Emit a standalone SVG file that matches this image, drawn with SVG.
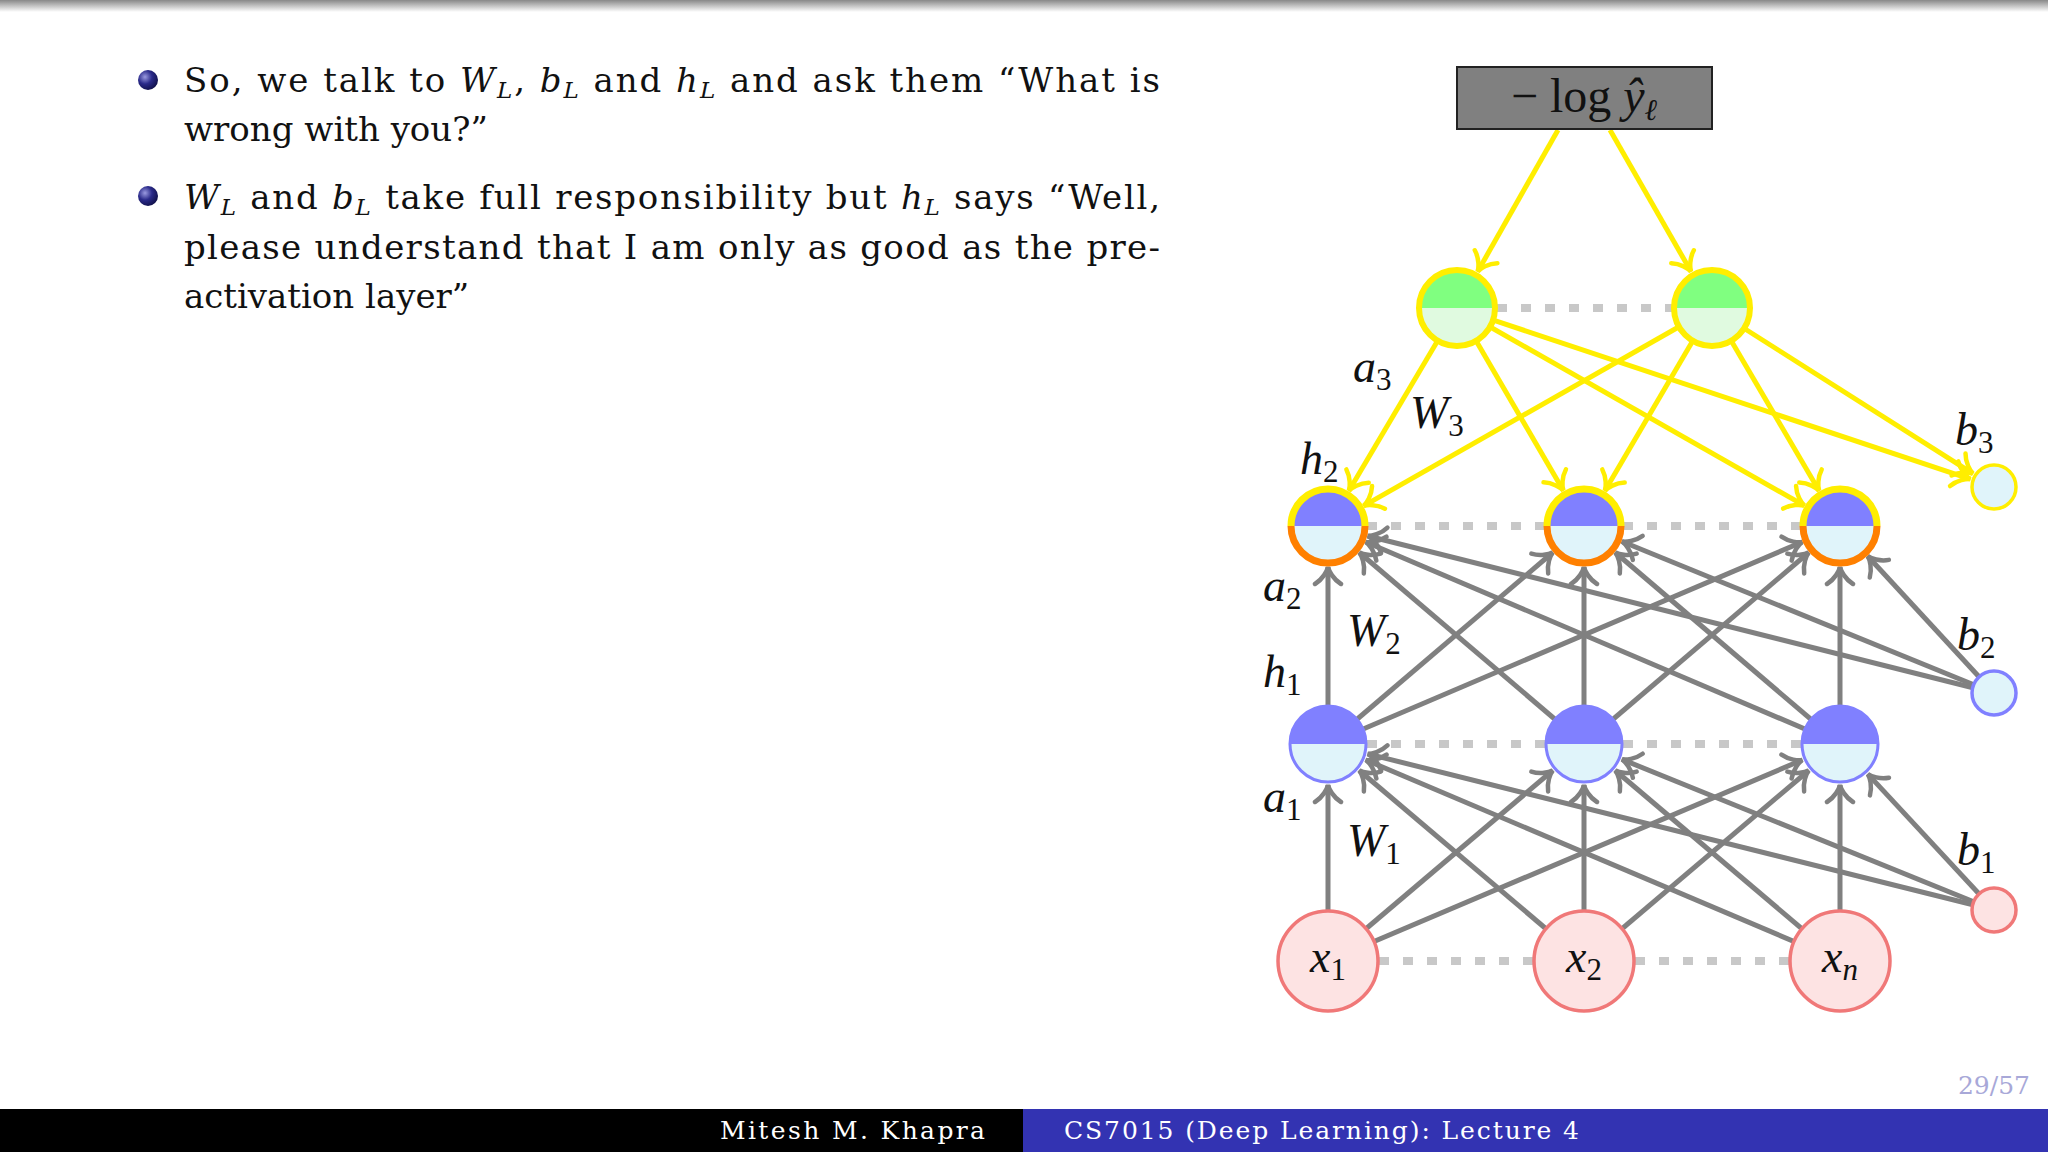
<svg xmlns="http://www.w3.org/2000/svg" width="2048" height="1152" viewBox="0 0 2048 1152">
<defs>
<linearGradient id="top" x1="0" y1="0" x2="0" y2="1"><stop offset="0" stop-color="#888"/><stop offset="1" stop-color="#fff"/></linearGradient>
<radialGradient id="ball" cx="0.35" cy="0.35" r="0.7"><stop offset="0" stop-color="#9a9ae0"/><stop offset="0.5" stop-color="#2a2a8a"/><stop offset="1" stop-color="#10104a"/></radialGradient>
<marker id="ag" viewBox="-20 -16 24 32" refX="0" refY="0" markerWidth="24" markerHeight="32" markerUnits="userSpaceOnUse" orient="auto"><path d="M-17,-13 C-12,-5 -4,-1 0,0 C-4,1 -12,5 -17,13" fill="none" stroke="#808080" stroke-width="4.5" stroke-linecap="round"/></marker>
<marker id="ay" viewBox="-20 -16 24 32" refX="0" refY="0" markerWidth="24" markerHeight="32" markerUnits="userSpaceOnUse" orient="auto"><path d="M-17,-13 C-12,-5 -4,-1 0,0 C-4,1 -12,5 -17,13" fill="none" stroke="#ffee00" stroke-width="4.5" stroke-linecap="round"/></marker>
</defs>
<style>
.t{font-family:"DejaVu Serif",serif;font-size:34px;fill:#111}
.m{font-family:"Liberation Serif",serif;font-style:italic;font-size:46px;fill:#111}
.s{font-size:31px;font-style:normal}
.g line{stroke:#808080;stroke-width:5;marker-end:url(#ag)}
.y line{stroke:#ffee00;stroke-width:5;marker-end:url(#ay)}
.dot{stroke:#c8c8c8;stroke-width:8;stroke-dasharray:10 14}
.lo{fill:#e0f4fa}
.f{font-family:"DejaVu Serif",serif;font-size:25px;fill:#fff}
</style>
<rect width="2048" height="1152" fill="#fff"/>
<rect width="2048" height="12" fill="url(#top)"/>

<circle cx="148" cy="80" r="10" fill="url(#ball)"/>
<circle cx="148" cy="196" r="10" fill="url(#ball)"/>
<text class="t" x="184" y="92" textLength="976" lengthAdjust="spacing">So, we talk to <tspan font-style="italic">W</tspan><tspan font-style="italic" font-size="23" dy="6">L</tspan><tspan dy="-6">, </tspan><tspan font-style="italic">b</tspan><tspan font-style="italic" font-size="23" dy="6">L</tspan><tspan dy="-6"> and </tspan><tspan font-style="italic">h</tspan><tspan font-style="italic" font-size="23" dy="6">L</tspan><tspan dy="-6"> and ask them “What is</tspan></text>
<text class="t" x="184" y="141">wrong with you?”</text>
<text class="t" x="184" y="209" textLength="976" lengthAdjust="spacing"><tspan font-style="italic">W</tspan><tspan font-style="italic" font-size="23" dy="6">L</tspan><tspan dy="-6"> and </tspan><tspan font-style="italic">b</tspan><tspan font-style="italic" font-size="23" dy="6">L</tspan><tspan dy="-6"> take full responsibility but </tspan><tspan font-style="italic">h</tspan><tspan font-style="italic" font-size="23" dy="6">L</tspan><tspan dy="-6"> says “Well,</tspan></text>
<text class="t" x="184" y="259" textLength="976" lengthAdjust="spacing">please understand that I am only as good as the pre-</text>
<text class="t" x="184" y="308">activation layer”</text>

<g id="dots">
<line class="dot" x1="1497" y1="308" x2="1672" y2="308"/>
<line class="dot" x1="1367" y1="526" x2="1545" y2="526"/><line class="dot" x1="1623" y1="526" x2="1801" y2="526"/>
<line class="dot" x1="1367" y1="744" x2="1545" y2="744"/><line class="dot" x1="1623" y1="744" x2="1801" y2="744"/>
<line class="dot" x1="1379" y1="961" x2="1533" y2="961"/><line class="dot" x1="1635" y1="961" x2="1789" y2="961"/>
</g>

<g id="connectors">
<g class="g">
<line x1="1328" y1="961" x2="1328" y2="785"/><line x1="1328" y1="961" x2="1552.7" y2="770.5"/><line x1="1328" y1="961" x2="1802.2" y2="760"/>
<line x1="1584" y1="961" x2="1359.3" y2="770.5"/><line x1="1584" y1="961" x2="1584" y2="785"/><line x1="1584" y1="961" x2="1808.7" y2="770.5"/>
<line x1="1840" y1="961" x2="1365.8" y2="760"/><line x1="1840" y1="961" x2="1615.3" y2="770.5"/><line x1="1840" y1="961" x2="1840" y2="785"/>
<line x1="1994" y1="910" x2="1867.9" y2="774.1"/><line x1="1994" y1="910" x2="1622" y2="759.4"/><line x1="1994" y1="910" x2="1367.8" y2="753.9"/>
<line x1="1328" y1="744" x2="1328" y2="567"/><line x1="1328" y1="744" x2="1552.7" y2="552.5"/><line x1="1328" y1="744" x2="1802.2" y2="542"/>
<line x1="1584" y1="744" x2="1359.3" y2="552.5"/><line x1="1584" y1="744" x2="1584" y2="567"/><line x1="1584" y1="744" x2="1808.7" y2="552.5"/>
<line x1="1840" y1="744" x2="1365.8" y2="542"/><line x1="1840" y1="744" x2="1615.3" y2="552.5"/><line x1="1840" y1="744" x2="1840" y2="567"/>
<line x1="1994" y1="693" x2="1867.8" y2="556.2"/><line x1="1994" y1="693" x2="1622" y2="541.5"/><line x1="1994" y1="693" x2="1367.8" y2="536"/>
</g>
<g class="y">
<line x1="1558" y1="130" x2="1477.7" y2="271.5"/><line x1="1610" y1="130" x2="1691" y2="271.5"/>
<line x1="1457" y1="308" x2="1348.9" y2="490.7"/><line x1="1457" y1="308" x2="1563.3" y2="490.5"/><line x1="1457" y1="308" x2="1804.4" y2="505.7"/><line x1="1457" y1="308" x2="1970.3" y2="479.1"/>
<line x1="1712" y1="308" x2="1363.7" y2="505.8"/><line x1="1712" y1="308" x2="1604.9" y2="490.7"/><line x1="1712" y1="308" x2="1819.1" y2="490.7"/><line x1="1712" y1="308" x2="1972.9" y2="473.6"/>
</g>
</g>

<g id="loss"><rect x="1457" y="67" width="255" height="62" fill="#808080" stroke="#222" stroke-width="2"/>
<text x="1584" y="112" text-anchor="middle" font-family="Liberation Serif,serif" font-size="48" fill="#111">− log <tspan font-style="italic">ŷ</tspan><tspan font-style="italic" font-size="30" dy="8">ℓ</tspan></text></g>

<g id="out1"><path d="M1419,308 A38,38 0 0 1 1495,308Z" fill="#80ff80"/><path d="M1419,308 A38,38 0 0 0 1495,308Z" fill="#e0fae0"/><circle cx="1457" cy="308" r="38" fill="none" stroke="#ffee00" stroke-width="6"/></g>
<g id="out2"><path d="M1674,308 A38,38 0 0 1 1750,308Z" fill="#80ff80"/><path d="M1674,308 A38,38 0 0 0 1750,308Z" fill="#e0fae0"/><circle cx="1712" cy="308" r="38" fill="none" stroke="#ffee00" stroke-width="6"/></g>

<g id="h2n1"><path d="M1291,526 A37,37 0 0 1 1365,526Z" fill="#8080ff"/><path d="M1291,526 A37,37 0 0 0 1365,526Z" class="lo"/><path d="M1291,526 A37,37 0 0 1 1365,526" fill="none" stroke="#ffee00" stroke-width="7"/><path d="M1291,526 A37,37 0 0 0 1365,526" fill="none" stroke="#ff8000" stroke-width="7"/></g>
<g id="h2n2"><path d="M1547,526 A37,37 0 0 1 1621,526Z" fill="#8080ff"/><path d="M1547,526 A37,37 0 0 0 1621,526Z" class="lo"/><path d="M1547,526 A37,37 0 0 1 1621,526" fill="none" stroke="#ffee00" stroke-width="7"/><path d="M1547,526 A37,37 0 0 0 1621,526" fill="none" stroke="#ff8000" stroke-width="7"/></g>
<g id="h2n3"><path d="M1803,526 A37,37 0 0 1 1877,526Z" fill="#8080ff"/><path d="M1803,526 A37,37 0 0 0 1877,526Z" class="lo"/><path d="M1803,526 A37,37 0 0 1 1877,526" fill="none" stroke="#ffee00" stroke-width="7"/><path d="M1803,526 A37,37 0 0 0 1877,526" fill="none" stroke="#ff8000" stroke-width="7"/></g>

<g id="h1n1"><path d="M1290,744 A38,38 0 0 1 1366,744Z" fill="#8080ff"/><path d="M1290,744 A38,38 0 0 0 1366,744Z" class="lo"/><circle cx="1328" cy="744" r="38" fill="none" stroke="#8080ff" stroke-width="3"/></g>
<g id="h1n2"><path d="M1546,744 A38,38 0 0 1 1622,744Z" fill="#8080ff"/><path d="M1546,744 A38,38 0 0 0 1622,744Z" class="lo"/><circle cx="1584" cy="744" r="38" fill="none" stroke="#8080ff" stroke-width="3"/></g>
<g id="h1n3"><path d="M1802,744 A38,38 0 0 1 1878,744Z" fill="#8080ff"/><path d="M1802,744 A38,38 0 0 0 1878,744Z" class="lo"/><circle cx="1840" cy="744" r="38" fill="none" stroke="#8080ff" stroke-width="3"/></g>

<g id="x1"><circle cx="1328" cy="961" r="50" fill="#fde3e3" stroke="#f07878" stroke-width="3.5"/><text class="m" x="1328" y="972" text-anchor="middle">x<tspan class="s" dy="8">1</tspan></text></g>
<g id="x2"><circle cx="1584" cy="961" r="50" fill="#fde3e3" stroke="#f07878" stroke-width="3.5"/><text class="m" x="1584" y="972" text-anchor="middle">x<tspan class="s" dy="8">2</tspan></text></g>
<g id="xn"><circle cx="1840" cy="961" r="50" fill="#fde3e3" stroke="#f07878" stroke-width="3.5"/><text class="m" x="1840" y="972" text-anchor="middle">x<tspan font-size="31" dy="8">n</tspan></text></g>

<g id="b3"><circle cx="1994" cy="487" r="22" fill="#e0f4fa" stroke="#ffee00" stroke-width="3.5"/></g>
<g id="b2"><circle cx="1994" cy="693" r="22" fill="#e0f4fa" stroke="#8080ff" stroke-width="3.5"/></g>
<g id="b1"><circle cx="1994" cy="910" r="22" fill="#fde3e3" stroke="#f07878" stroke-width="3.5"/></g>

<g id="labels">
<text class="m" x="1353" y="382">a<tspan class="s" dy="8">3</tspan></text>
<text class="m" x="1410" y="428">W<tspan class="s" dy="8">3</tspan></text>
<text class="m" x="1300" y="474">h<tspan class="s" dy="8">2</tspan></text>
<text class="m" x="1955" y="445">b<tspan class="s" dy="8">3</tspan></text>
<text class="m" x="1263" y="601">a<tspan class="s" dy="8">2</tspan></text>
<text class="m" x="1347" y="646">W<tspan class="s" dy="8">2</tspan></text>
<text class="m" x="1263" y="687">h<tspan class="s" dy="8">1</tspan></text>
<text class="m" x="1957" y="650">b<tspan class="s" dy="8">2</tspan></text>
<text class="m" x="1263" y="812">a<tspan class="s" dy="8">1</tspan></text>
<text class="m" x="1347" y="856">W<tspan class="s" dy="8">1</tspan></text>
<text class="m" x="1957" y="865">b<tspan class="s" dy="8">1</tspan></text>
</g>

<text x="2030" y="1094" text-anchor="end" font-family="DejaVu Serif,serif" font-size="25" fill="#a8a8d8">29/57</text>

<rect x="0" y="1109" width="1023" height="43" fill="#000"/>
<rect x="1023" y="1109" width="1025" height="43" fill="#3333b2"/>
<text class="f" x="720" y="1139" textLength="265" lengthAdjust="spacing">Mitesh M. Khapra</text>
<text class="f" x="1064" y="1139" textLength="515" lengthAdjust="spacing">CS7015 (Deep Learning): Lecture 4</text>
</svg>
